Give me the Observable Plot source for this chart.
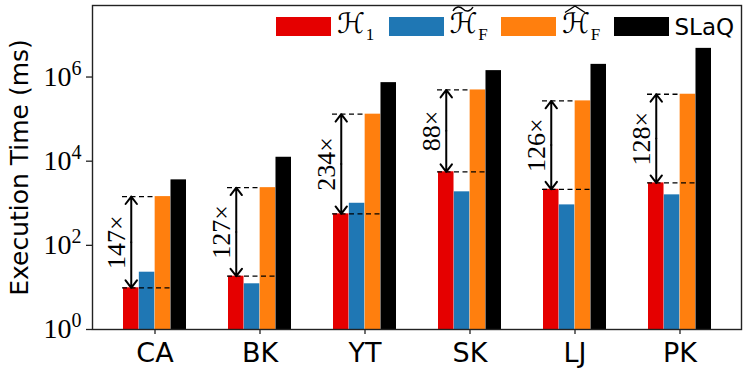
<!DOCTYPE html>
<html>
<head>
<meta charset="utf-8">
<script src="https://cdn.jsdelivr.net/npm/d3@7"></script>
<script src="https://cdn.jsdelivr.net/npm/@observablehq/plot@0.6"></script>
<style>
html,body{margin:0;padding:0;background:#fff;}
#wrap{position:relative;width:747px;height:374px;overflow:hidden;}
#legend{position:absolute;left:276px;top:14px;display:flex;align-items:center;height:24px;}
.item{display:flex;align-items:center;width:112.5px;flex:none;}
.item:last-child{width:auto;}
.sw{width:55px;height:19px;margin-right:6px;flex:none;}
.lab{font-family:"DejaVu Serif","DejaVu Sans",serif;font-size:28px;line-height:24px;color:#000;white-space:nowrap;}
.cal{font-family:"DejaVu Sans","DejaVu Serif",serif;font-style:italic;}
.sub{font-family:"Liberation Serif",serif;font-size:17px;position:relative;top:7px;margin-left:1px;}
.acc{position:relative;display:inline-block;}
.acc svg{position:absolute;left:2px;top:-7px;width:22px;height:8px;overflow:visible;}
.sans{font-family:"DejaVu Sans",sans-serif;font-size:23px;}
</style>
</head>
<body>
<div id="wrap"><div id="chart"></div><div id="legend"></div></div>
<script>
// ---- data ----
const categories = ["CA", "BK", "YT", "SK", "LJ", "PK"];
const seriesKeys = ["H1", "HtildeF", "HhatF", "SLaQ"];
const tildeSvg = '<svg viewBox="0 0 22 8"><path d="M1,6 C4,1 8,1 11,4 C14,7 18,7 21,2" fill="none" stroke="#000" stroke-width="1.4"/></svg>';
const hatSvg = '<svg viewBox="0 0 22 8"><path d="M1,7.5 L11,1 L21,7.5" fill="none" stroke="#000" stroke-width="1.4"/></svg>';
const seriesLabels = [
  '<span class="cal">ℋ</span><span class="sub">1</span>',
  '<span class="acc"><span class="cal">ℋ</span>' + tildeSvg + '</span><span class="sub">F</span>',
  '<span class="acc"><span class="cal">ℋ</span>' + hatSvg + '</span><span class="sub">F</span>',
  '<span class="sans">SLaQ</span>'
];
const seriesColors = ["#e50000", "#1f77b4", "#ff7f0e", "#000000"];
const h1Values     = [9.8, 18.5, 560, 5600, 2150, 3050];
const htildeValues = [23, 12.2, 1000, 1870, 915, 1585];
const hhatValues   = [1440, 2350, 131000, 493000, 271000, 390000];
const slaqValues   = [3600, 12400, 736000, 1420000, 2000000, 4800000];
const speedups     = [147, 127, 234, 88, 126, 128];
const yTicks       = [1, 1e2, 1e4, 1e6];
const yLabel       = "Execution Time (ms)";

// ---- layout ----
const W = 747, H = 374, ML = 92, MR = 6, MT = 5, MB = 45;
const PI = 0.4, PO = 0.275;
const step = (W - ML - MR) / (categories.length - PI + 2 * PO);
const bw = step * (1 - PI);
const q = bw / 4;

const seriesValues = [h1Values, htildeValues, hhatValues, slaqValues];
const bars = seriesKeys.map((k, j) =>
  Plot.barY(categories.map((c, i) => ({cat: c, series: k, v: seriesValues[j][i]})), {
    x: "cat", y1: () => 1, y2: "v",
    fill: seriesColors[j],
    insetLeft: j * q, insetRight: (3 - j) * q
  })
);

const ann = categories.map((c, i) => ({
  cat: c, lo: h1Values[i], hi: hhatValues[i],
  mid: Math.sqrt(h1Values[i] * hhatValues[i]),
  label: speedups[i] + "×"
}));

const arrowOpts = {stroke: "#000", strokeWidth: 2, headAngle: 75, headLength: 7, dx: -1.5 * q};

const chart = Plot.plot({
  width: W, height: H,
  marginLeft: ML, marginRight: MR, marginTop: MT, marginBottom: MB,
  style: {background: "#fff"},
  x: {type: "band", domain: categories, paddingInner: PI, paddingOuter: PO},
  y: {type: "log", domain: [1, Math.pow(10, 7.7)]},
  marks: [
    ...bars,
    Plot.tickY(ann, {x: "cat", y: "lo", insetLeft: -1, insetRight: q, stroke: "#000", strokeWidth: 1.3, strokeDasharray: "5,3.5"}),
    Plot.tickY(ann, {x: "cat", y: "hi", insetLeft: -1, insetRight: 2 * q, stroke: "#000", strokeWidth: 1.3, strokeDasharray: "5,3.5"}),
    Plot.arrow(ann, {x1: "cat", x2: "cat", y1: "mid", y2: "lo", ...arrowOpts}),
    Plot.arrow(ann, {x1: "cat", x2: "cat", y1: "mid", y2: "hi", ...arrowOpts}),
    Plot.text(ann, {x: "cat", y: "mid", text: "label", rotate: -90, dx: -1.5 * q - 15, fontFamily: "Liberation Serif", fontSize: 26, fill: "#000"}),
    Plot.frame({stroke: "#222", strokeWidth: 1.4}),
    Plot.axisY({ticks: yTicks, tickFormat: d => "10^" + Math.round(Math.log10(d)), tickSize: 6, tickPadding: 5, fontSize: 28, fontFamily: "Liberation Serif", stroke: "#222", strokeWidth: 1.3, fill: "#000", label: null}),
    Plot.axisX({tickSize: 5, tickPadding: 8, fontSize: 27, fontFamily: "DejaVu Sans", stroke: "#222", strokeWidth: 1.3, fill: "#000", label: null}),
    Plot.text([yLabel], {frameAnchor: "left", textAnchor: "middle", lineAnchor: "middle", dx: -73, rotate: -90, text: d => d, fontFamily: "DejaVu Sans", fontSize: 25, fill: "#000"})
  ]
});

// superscript exponents on y tick labels
chart.querySelectorAll('g[aria-label="y-axis tick label"] text').forEach(t => {
  const m = t.textContent.match(/^10\^(\d+)$/);
  if (!m) return;
  t.textContent = "10";
  const ts = document.createElementNS("http://www.w3.org/2000/svg", "tspan");
  ts.setAttribute("font-size", "20");
  ts.setAttribute("dy", "-0.55em");
  ts.textContent = m[1];
  t.appendChild(ts);
});
document.getElementById("chart").appendChild(chart);

// legend
const legend = document.getElementById("legend");
seriesKeys.forEach((k, j) => {
  const item = document.createElement("div");
  item.className = "item";
  item.innerHTML = `<div class="sw" style="background:${seriesColors[j]}"></div><div class="lab">${seriesLabels[j]}</div>`;
  legend.appendChild(item);
});
</script>
</body>
</html>
